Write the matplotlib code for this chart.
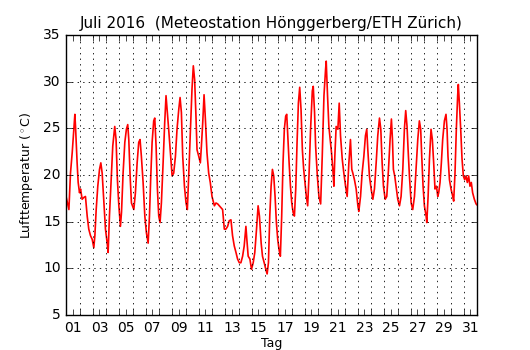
import matplotlib
matplotlib.use('Agg')
import matplotlib.pyplot as plt
import numpy as np

# ============================================================
# Data: Lufttemperatur Juli 2016, Hönggerberg
# Zeit in Tagen seit 1. Juli 00:00
# ============================================================
tage = [
    0.00, 0.20, 0.32, 0.45, 0.57, 0.65, 0.70, 0.82, 0.90, 1.00, 1.08, 1.20, 1.33, 1.45,
    1.58, 1.70, 1.83, 1.96, 2.08, 2.16, 2.26, 2.38, 2.51, 2.61, 2.71, 2.83, 2.96, 3.09,
    3.16, 3.26, 3.39, 3.51, 3.66, 3.76, 3.86, 3.97, 4.09, 4.17, 4.29, 4.42, 4.54, 4.64,
    4.72, 4.82, 4.92, 5.10, 5.22, 5.35, 5.47, 5.57, 5.67, 5.80, 5.93, 6.05, 6.18, 6.28,
    6.38, 6.48, 6.60, 6.68, 6.78, 6.88, 6.98, 7.08, 7.18, 7.31, 7.43, 7.53, 7.63, 7.73,
    7.86, 7.99, 8.11, 8.24, 8.36, 8.49, 8.59, 8.69, 8.79, 8.92, 9.04, 9.14, 9.24, 9.37,
    9.49, 9.59, 9.69, 9.79, 9.87, 10.00, 10.12, 10.20, 10.30, 10.40, 10.50, 10.62, 10.75,
    10.87, 11.00, 11.18, 11.30, 11.43, 11.55, 11.68, 11.80, 11.93, 12.05, 12.18, 12.30,
    12.43, 12.55, 12.68, 12.81, 12.93, 13.06, 13.18, 13.31, 13.43, 13.56, 13.63, 13.73,
    13.86, 13.98, 14.11, 14.23, 14.36, 14.48, 14.58, 14.71, 14.81, 14.94, 15.06, 15.16,
    15.26, 15.36, 15.46, 15.56, 15.66, 15.76, 15.86, 15.96, 16.06, 16.16, 16.26, 16.36,
    16.46, 16.56, 16.64, 16.71, 16.82, 16.92, 17.02, 17.12, 17.22, 17.32, 17.42, 17.52,
    17.62, 17.72, 17.82, 17.92, 18.02, 18.12, 18.22, 18.32, 18.44, 18.57, 18.64, 18.74,
    18.82, 18.95, 19.07, 19.20, 19.32, 19.45, 19.57, 19.62, 19.72, 19.82, 19.92, 20.02,
    20.12, 20.20, 20.27, 20.37, 20.50, 20.60, 20.70, 20.83, 20.95, 21.08, 21.20, 21.33,
    21.45, 21.55, 21.63, 21.75, 21.88, 22.01, 22.08, 22.21, 22.33, 22.46, 22.58, 22.68,
    22.76, 22.88, 23.01, 23.14, 23.26, 23.39, 23.51, 23.64, 23.74, 23.84, 23.94, 24.07,
    24.19, 24.32, 24.44, 24.54, 24.62, 24.69, 24.79, 24.89, 25.02, 25.15, 25.27, 25.40,
    25.52, 25.62, 25.72, 25.80, 25.90, 26.03, 26.15, 26.28, 26.40, 26.53, 26.65, 26.75,
    26.83, 26.93, 27.03, 27.16, 27.21, 27.31, 27.41, 27.53, 27.63, 27.73, 27.83, 27.94,
    28.04, 28.11, 28.21, 28.31, 28.41, 28.54, 28.66, 28.74, 28.81, 28.92, 29.04, 29.17,
    29.24, 29.34, 29.44, 29.54, 29.59, 29.67, 29.77, 29.87, 29.97, 30.07, 30.17, 30.27,
    30.37, 30.47, 30.57, 30.67, 30.80, 30.93, 31.00,
]
temp = [
    17.6, 16.3, 20.2, 22.4, 24.9, 26.5, 25.2, 21.3, 19.2, 18.1, 18.5, 17.4, 17.6, 17.7,
    15.6, 14.2, 13.5, 13.1, 12.2, 13.5, 16.3, 18.8, 20.6, 21.3, 20.2, 17.4, 14.2, 12.7,
    11.7, 15.6, 19.5, 23.1, 25.2, 23.8, 19.5, 16.7, 14.5, 16.0, 20.2, 23.5, 24.9, 25.4,
    23.8, 19.9, 17.0, 16.3, 18.1, 21.3, 23.5, 23.8, 22.0, 19.2, 15.6, 13.8, 12.7, 15.6,
    19.9, 23.5, 25.8, 26.1, 23.1, 18.5, 15.6, 14.9, 17.0, 21.3, 25.6, 28.5, 26.7, 24.9,
    22.4, 19.9, 20.2, 22.0, 24.9, 27.0, 28.3, 26.7, 22.0, 18.8, 17.0, 16.3, 19.9, 24.9,
    29.2, 31.7, 30.2, 26.3, 22.7, 22.0, 21.3, 23.1, 25.6, 28.6, 26.0, 22.4, 20.2,
    19.2, 17.7, 16.7, 17.0, 16.9, 16.7, 16.5, 16.3, 14.2, 14.2, 14.5, 15.1,
    15.2, 13.5, 12.4, 11.7, 11.0, 10.6, 10.6, 11.3, 12.4, 14.5, 13.1, 11.3,
    11.0, 9.9, 10.6, 11.7, 14.2, 16.7, 15.6, 12.7, 11.3, 10.6, 9.9, 9.4,
    10.6, 15.6, 18.8, 20.6, 19.9, 17.7, 14.9, 13.1, 12.0, 11.3, 15.6, 21.3,
    24.9, 26.3, 26.5, 24.5, 21.3, 18.8, 17.0, 16.0, 15.6, 18.5, 23.5, 27.7,
    29.4, 27.0, 22.7, 20.6, 19.2, 17.7, 16.7, 19.9, 24.9, 29.0, 29.5, 26.7,
    23.1, 19.9, 17.7, 16.9, 22.0, 28.5, 31.3, 32.2, 28.5, 25.2, 23.8, 22.4,
    20.6, 18.8, 22.0, 25.2, 24.9, 27.7, 24.2, 21.7, 20.2, 18.8, 17.7, 21.3,
    23.8, 20.6, 20.2, 19.5, 18.5, 16.7, 16.1, 17.7, 20.2, 22.0, 24.2, 24.9,
    22.7, 19.9, 18.5, 17.4, 18.5, 21.3, 24.2, 26.1, 24.9, 21.3, 18.8, 17.4,
    17.7, 20.6, 23.8, 26.0, 23.8, 20.6, 19.9, 18.8, 17.4, 16.7, 17.7, 20.6,
    24.9, 26.9, 25.2, 22.7, 19.9, 17.0, 16.3, 17.7, 20.6, 23.8, 25.8, 24.9,
    22.0, 18.8, 16.7, 15.6, 14.9, 17.7, 21.7, 24.9, 23.8, 21.3, 18.5, 18.8,
    17.7, 18.1, 19.2, 21.3, 23.8, 25.8, 26.5, 24.9, 22.0, 19.5, 18.5, 17.7,
    17.2, 20.2, 24.9, 28.5, 29.7, 27.7, 24.9, 21.7, 19.9, 19.5, 19.9, 19.2,
    19.9, 18.8, 19.2, 18.1, 17.4, 16.9, 16.8,
]

tag_ticks = np.arange(0.5, 31, 2)                 # labels at noon of odd days
tag_labels = ['%02d' % d for d in range(1, 32, 2)]
y_ticks = [5, 10, 15, 20, 25, 30, 35]

# ============================================================
# Plot
# ============================================================
plt.style.use('classic')
fig = plt.figure(figsize=(5.3, 3.5), dpi=100)
fig.patch.set_facecolor('white')
ax = fig.add_axes([0.125, 0.1, 0.775, 0.8])

ax.plot(tage, temp, '-', color='red', linewidth=1.2)

ax.set_xlim(0, 31)
ax.set_ylim(5, 35)
ax.set_xticks(tag_ticks)
ax.set_xticklabels(tag_labels, fontsize=10)
ax.set_xticks(np.arange(0, 31.01, 1.0), minor=True)
ax.set_yticks(y_ticks)
ax.tick_params(axis='y', labelsize=10)
ax.tick_params(which='minor', length=4)

ax.grid(False)
ax.xaxis.grid(True, which='minor', linestyle=':', color='black', linewidth=0.6)
ax.yaxis.grid(True, which='major', linestyle=':', color='black', linewidth=0.6)

ax.set_xlabel('Tag', fontsize=9, labelpad=2)
ax.set_ylabel(r'Lufttemperatur ($^\circ$C)', fontsize=9, labelpad=6)
ax.set_title(u'Juli 2016  (Meteostation H\u00f6nggerberg/ETH Z\u00fcrich)', fontsize=11)

fig.savefig('out.png', dpi=100, facecolor='white')
